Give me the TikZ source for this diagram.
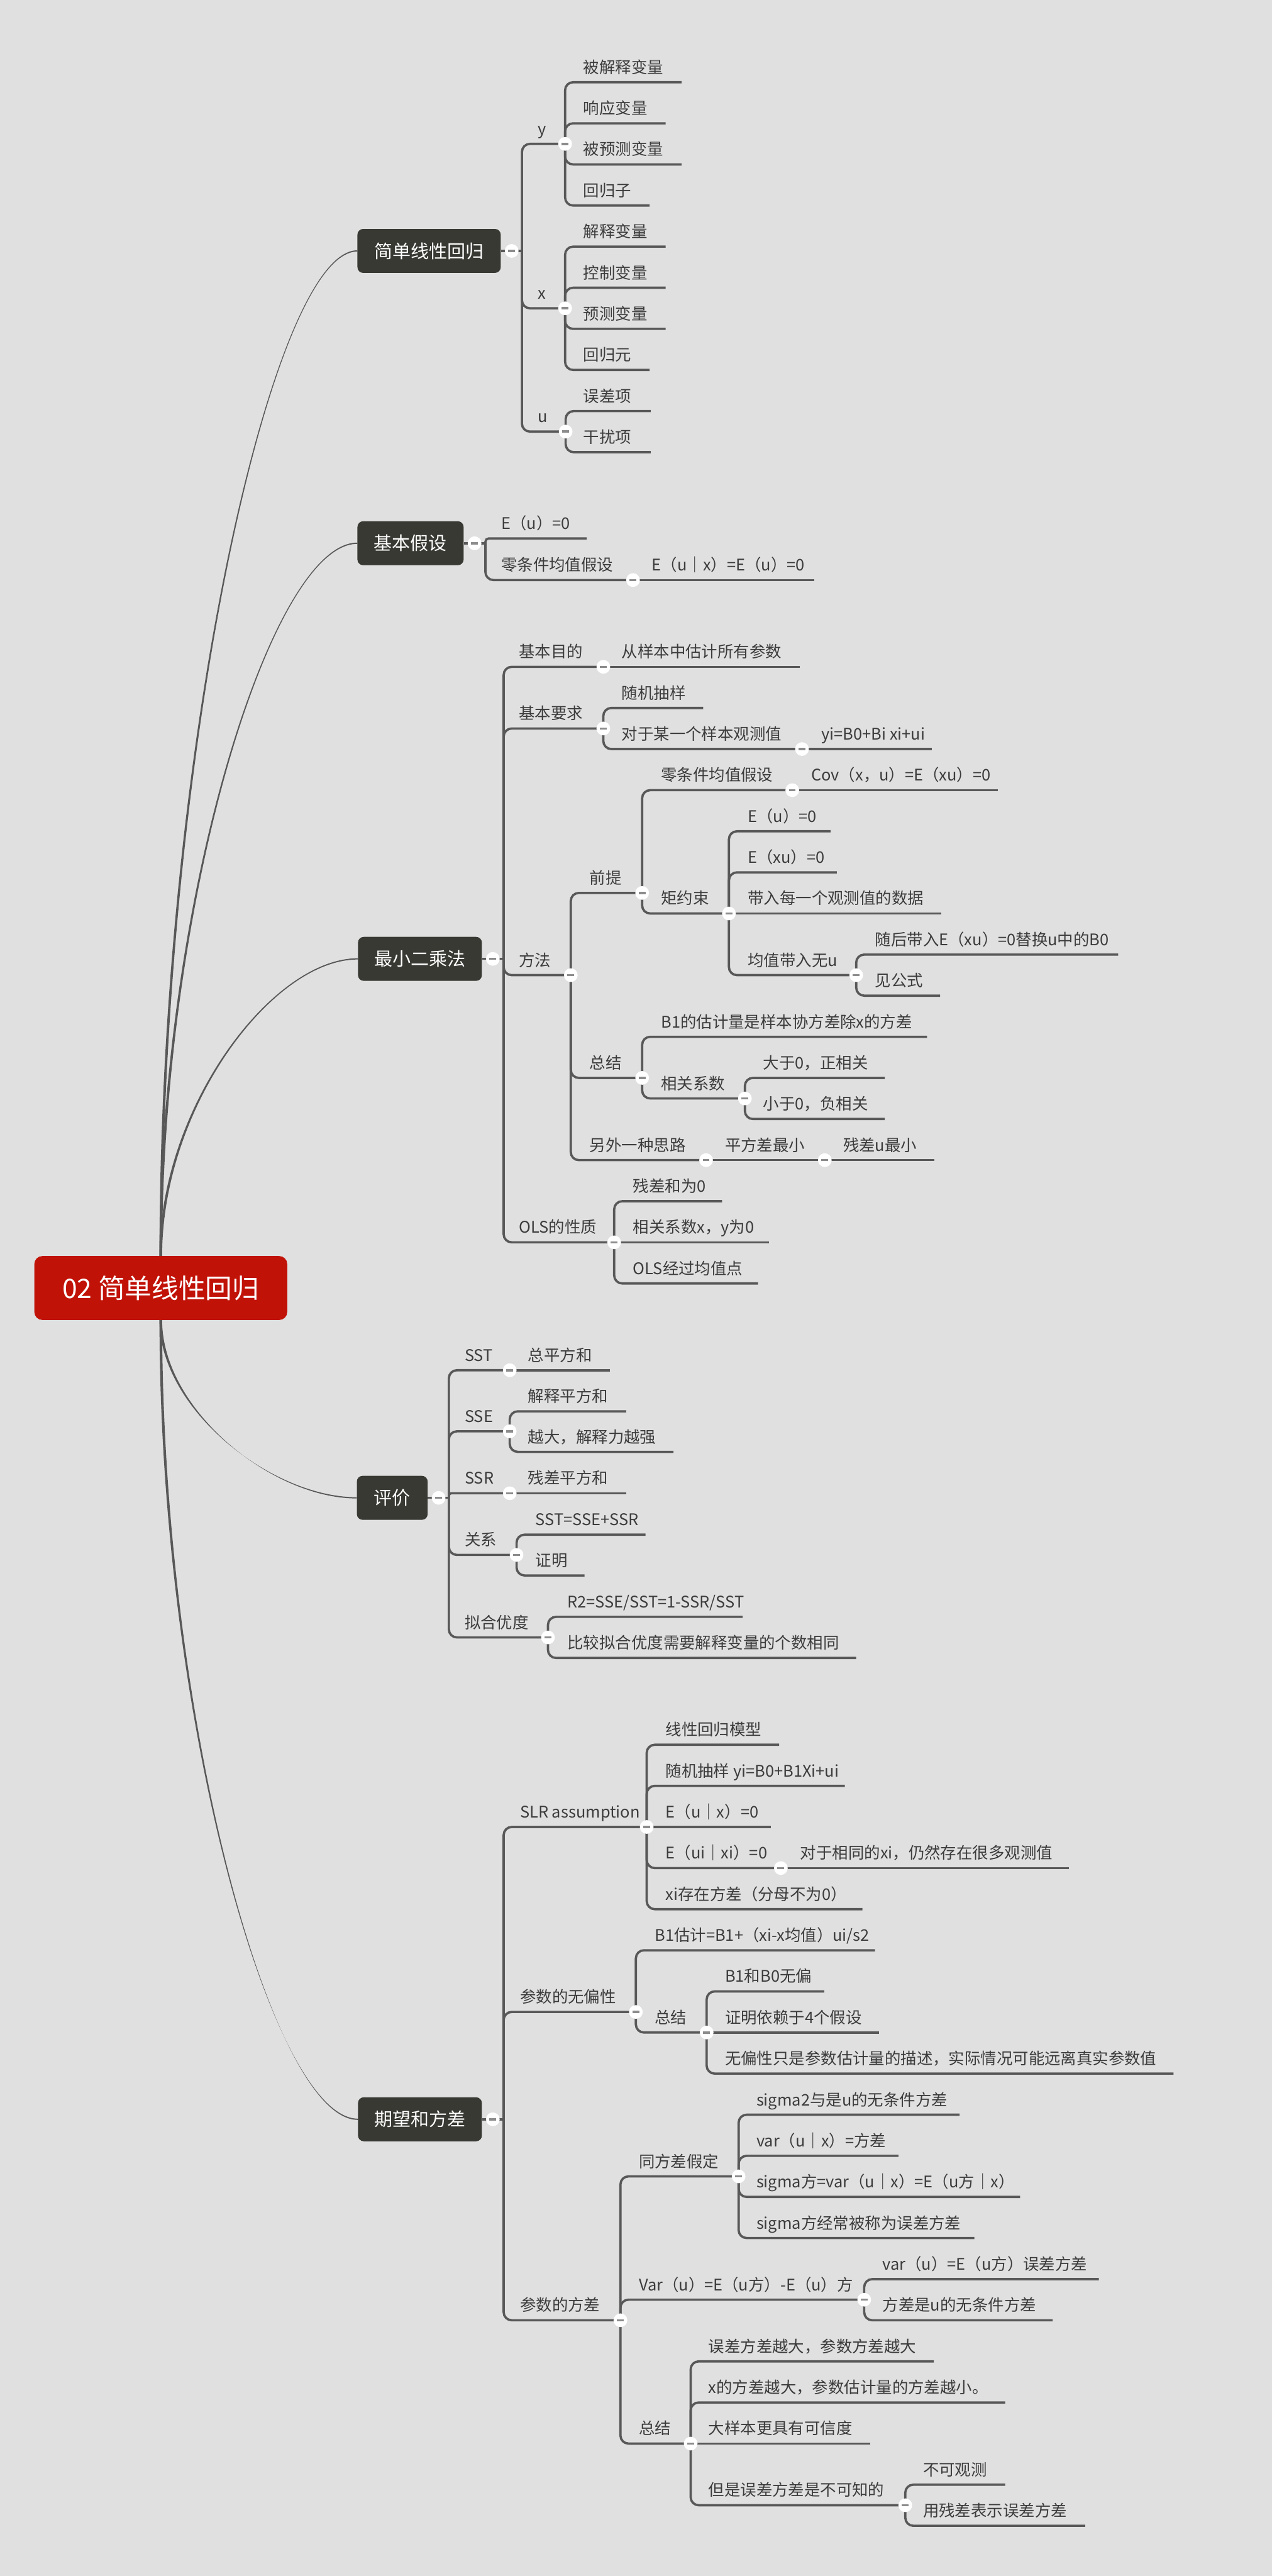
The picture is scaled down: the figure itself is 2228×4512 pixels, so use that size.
\documentclass[tikz,border=0pt]{standalone}
\usepackage{fontspec}
\setmainfont{Noto Sans CJK SC}
\usetikzlibrary{calc}
\pgfdeclarelayer{bg}
\pgfsetlayers{bg,main}
\definecolor{bgc}{RGB}{224,224,224}
\definecolor{lnc}{RGB}{88,88,88}
\definecolor{boxc}{RGB}{57,57,52}
\definecolor{rootc}{RGB}{193,18,8}
\definecolor{txc}{RGB}{60,60,60}
\definecolor{minc}{RGB}{140,140,140}
\newcommand\mmT[7][]{\node[txt] (#2) at (#5,#4-16) {#7};\coordinate (#2e) at (#6,#4);\draw[conn,#1] (#3) |- (#2e);}
\newcommand\mmS[6]{\node[txt] (#1) at (#4,#3-16) {#6};\coordinate (#1e) at (#5,#3);\draw[conn] (#2) -- (#1e);}
\newcommand\mmCurve[3]{%
  \coordinate (#3a) at ($(#2)!0.5!(#2 |- #1.west)$);
  \coordinate (#3b) at ($(#1.west)+(-150,0)$);
  \fill[lnc] ($(#2)+(-2.3,0)$) .. controls ($(#3a)+(-2.3,0)$) and ($(#3b)+(0,-1.1)$) .. ($(#1.west)+(0,-1.1)$) -- ($(#1.west)+(0,1.1)$) .. controls ($(#3b)+(0,1.1)$) and ($(#3a)+(2.3,0)$) .. ($(#2)+(2.3,0)$) -- cycle;}
\begin{document}
\begin{tikzpicture}[x=1pt,y=-1pt,
  conn/.style={draw=lnc,line width=4pt,rounded corners=14pt},
  txt/.style={anchor=base west,inner sep=0pt,text=txc,font=\fontsize{28}{30}\selectfont},
  l1/.style={anchor=west,fill=boxc,text=white,rounded corners=10pt,minimum height=77pt,inner sep=0pt,font=\fontsize{32}{34}\selectfont},
  rootbox/.style={anchor=west,fill=rootc,text=white,rounded corners=14pt,minimum width=443pt,minimum height=112pt,inner sep=0pt,font=\fontsize{47}{50}\selectfont},
  circ/.style={circle,fill=white,minimum size=24pt,inner sep=0pt,
    path picture={\draw[minc,line width=4pt] ($(path picture bounding box.center)+(-6,0)$) -- ($(path picture bounding box.center)+(6,0)$);}}
]
\useasboundingbox (0,0) rectangle (2228,4512);

% root and main topics
\node[rootbox] (R) at (60,2256) {02 简单线性回归};
\node[l1,minimum width=251pt] (A) at (626,439.5) {简单线性回归};
\node[l1,minimum width=186pt] (B) at (626,951.5) {基本假设};
\node[l1,minimum width=217pt] (C) at (627,1679.5) {最小二乘法};
\node[l1,minimum width=124pt] (D) at (625,2623.5) {评价};
\node[l1,minimum width=217pt] (E) at (627,3712) {期望和方差};

\begin{pgfonlayer}{bg}
\fill[bgc] (0,0) rectangle (2228,4512);
\mmCurve{A}{R.north}{qa}
\mmCurve{B}{R.north}{qb}
\mmCurve{C}{R.north}{qc}
\mmCurve{D}{R.south}{qd}
\mmCurve{E}{R.south}{qe}
\end{pgfonlayer}

\foreach \b/\d in {A/37,B/38,C/38,D/37,E/38}{
  \coordinate (\b e) at ($(\b.east)+(\d,0)$);
  \draw[conn] (\b.east) -- (\b e);
}

% ---- 简单线性回归
\mmT{ay}{Ae}{252}{942}{990}{y}
\mmT{ay1}{aye}{144}{1022}{1194}{被解释变量}
\mmT{ay2}{aye}{216}{1022}{1166}{响应变量}
\mmT{ay3}{aye}{288}{1022}{1194}{被预测变量}
\mmT{ay4}{aye}{360}{1022}{1138}{回归子}
\mmT{ax}{Ae}{540}{942}{990}{x}
\mmT{ax1}{axe}{432}{1022}{1166}{解释变量}
\mmT{ax2}{axe}{504}{1022}{1166}{控制变量}
\mmT{ax3}{axe}{576}{1022}{1166}{预测变量}
\mmT{ax4}{axe}{648}{1022}{1138}{回归元}
\mmT{au}{Ae}{756}{942}{991}{u}
\mmT{au1}{aue}{720}{1022}{1140}{误差项}
\mmT{au2}{aue}{792}{1022}{1140}{干扰项}

% ---- 基本假设
\mmT[rounded corners=6pt]{b1}{Be}{943}{878}{1028}{E（u）=0}
\mmT{b2}{Be}{1016}{878}{1109}{零条件均值假设}
\mmS{b21}{b2e}{1016}{1142}{1427}{E（u｜x）=E（u）=0}

% ---- 最小二乘法
\mmT{c1}{Ce}{1168}{909}{1057}{基本目的}
\mmS{c11}{c1e}{1168}{1089}{1401}{从样本中估计所有参数}
\mmT{c2}{Ce}{1276}{909}{1057}{基本要求}
\mmT{c21}{c2e}{1240}{1089}{1232}{随机抽样}
\mmT{c22}{c2e}{1312}{1089}{1405}{对于某一个样本观测值}
\mmS{c221}{c22e}{1312}{1439}{1633}{yi=B0+Bi xi+ui}
\mmT{c3}{Ce}{1708}{909}{1000}{方法}
\mmT{c31}{c3e}{1564}{1033}{1125}{前提}
\mmT{c311}{c31e}{1384}{1158}{1388}{零条件均值假设}
\mmS{c3111}{c311e}{1384}{1421}{1748}{Cov（x，u）=E（xu）=0}
\mmT{c312}{c31e}{1600}{1158}{1277}{矩约束}
\mmT{c3121}{c312e}{1456}{1310}{1455}{E（u）=0}
\mmT{c3122}{c312e}{1528}{1310}{1466}{E（xu）=0}
\mmS{c3123}{c312e}{1600}{1310}{1649}{带入每一个观测值的数据}
\mmT{c3124}{c312e}{1708}{1310}{1500}{均值带入无u}
\mmT{c31241}{c3124e}{1672}{1533}{1959}{随后带入E（xu）=0替换u中的B0}
\mmT{c31242}{c3124e}{1744}{1533}{1647}{见公式}
\mmT{c32}{c3e}{1888}{1033}{1125}{总结}
\mmT{c321}{c32e}{1816}{1158}{1624}{B1的估计量是样本协方差除x的方差}
\mmT{c322}{c32e}{1924}{1158}{1305}{相关系数}
\mmT{c3221}{c322e}{1888}{1337}{1550}{大于0，正相关}
\mmT{c3222}{c322e}{1960}{1337}{1550}{小于0，负相关}
\mmT{c33}{c3e}{2032}{1033}{1237}{另外一种思路}
\mmS{c331}{c33e}{2032}{1270}{1445}{平方差最小}
\mmS{c3311}{c331e}{2032}{1477}{1637}{残差u最小}
\mmT{c4}{Ce}{2176}{909}{1076}{OLS的性质}
\mmT{c41}{c4e}{2104}{1109}{1265}{残差和为0}
\mmS{c42}{c4e}{2176}{1109}{1347}{相关系数x，y为0}
\mmT{c43}{c4e}{2248}{1109}{1328}{OLS经过均值点}

% ---- 评价
\mmT{d1}{De}{2400}{814}{893}{SST}
\mmS{d11}{d1e}{2400}{925}{1069}{总平方和}
\mmT{d2}{De}{2507}{814}{893}{SSE}
\mmT{d21}{d2e}{2472}{925}{1097}{解释平方和}
\mmT{d22}{d2e}{2543}{925}{1180}{越大，解释力越强}
\mmT[rounded corners=4pt]{d3}{De}{2615.5}{814}{893}{SSR}
\mmS{d31}{d3e}{2615.5}{925}{1097}{残差平方和}
\mmT{d4}{De}{2723.5}{814}{905}{关系}
\mmT{d41}{d4e}{2688}{938}{1131}{SST=SSE+SSR}
\mmT{d42}{d4e}{2759.5}{938}{1024}{证明}
\mmT{d5}{De}{2868}{814}{960}{拟合优度}
\mmT{d51}{d5e}{2832}{994}{1301}{R2=SSE/SST=1-SSR/SST}
\mmT{d52}{d5e}{2904}{994}{1500}{比较拟合优度需要解释变量的个数相同}

% ---- 期望和方差
\mmT{e1}{Ee}{3200}{911}{1133}{SLR assumption}
\mmT{e11}{e1e}{3056}{1166}{1365}{线性回归模型}
\mmT{e12}{e1e}{3128}{1166}{1480}{随机抽样 yi=B0+B1Xi+ui}
\mmS{e13}{e1e}{3200}{1166}{1351}{E（u｜x）=0}
\mmT{e14}{e1e}{3272}{1166}{1368}{E（ui｜xi）=0}
\mmS{e141}{e14e}{3272}{1402}{1873}{对于相同的xi，仍然存在很多观测值}
\mmT{e15}{e1e}{3344}{1166}{1511}{xi存在方差（分母不为0）}
\mmT{e2}{Ee}{3524}{911}{1114}{参数的无偏性}
\mmT{e21}{e2e}{3416}{1147}{1533}{B1估计=B1+（xi-x均值）ui/s2}
\mmT{e22}{e2e}{3560}{1147}{1238}{总结}
\mmT{e221}{e22e}{3488}{1270}{1444}{B1和B0无偏}
\mmS{e222}{e22e}{3560}{1270}{1540}{证明依赖于4个假设}
\mmT{e223}{e22e}{3632}{1270}{2056}{无偏性只是参数估计量的描述，实际情况可能远离真实参数值}
\mmT{e3}{Ee}{4064}{911}{1087}{参数的方差}
\mmT{e31}{e3e}{3812}{1119}{1294}{同方差假定}
\mmT{e311}{e31e}{3704}{1325}{1681}{sigma2与是u的无条件方差}
\mmT{e312}{e31e}{3776}{1325}{1574}{var（u｜x）=方差}
\mmT{e313}{e31e}{3848}{1325}{1787}{sigma方=var（u｜x）=E（u方｜x）}
\mmT{e314}{e31e}{3920}{1325}{1707}{sigma方经常被称为误差方差}
\mmT{e32}{e3e}{4028}{1119}{1514}{Var（u）=E（u方）-E（u）方}
\mmT{e321}{e32e}{3992}{1546}{1925}{var（u）=E（u方）误差方差}
\mmT{e322}{e32e}{4064}{1546}{1844}{方差是u的无条件方差}
\mmT{e33}{e3e}{4280}{1119}{1210}{总结}
\mmT{e331}{e33e}{4136}{1241}{1636}{误差方差越大，参数方差越大}
\mmT{e332}{e33e}{4208}{1241}{1761}{x的方差越大，参数估计量的方差越小。}
\mmS{e333}{e33e}{4280}{1241}{1525}{大样本更具有可信度}
\mmT{e334}{e33e}{4388}{1241}{1586}{但是误差方差是不可知的}
\mmT{e3341}{e334e}{4352}{1617}{1761}{不可观测}
\mmT{e3342}{e334e}{4424}{1617}{1901}{用残差表示误差方差}

% collapse markers
\foreach \b in {A,B,C,D,E}{\node[circ] at ($(\b.east)+(19,0)$) {};}
\foreach \p in {aye,axe,aue,b2e,c1e,c2e,c22e,c3e,c31e,c311e,c312e,c3124e,c32e,c322e,c33e,c331e,c4e,d1e,d2e,d3e,d4e,d5e,e1e,e14e,e2e,e22e,e3e,e31e,e32e,e33e,e334e}{\node[circ] at (\p) {};}
\end{tikzpicture}
\end{document}
